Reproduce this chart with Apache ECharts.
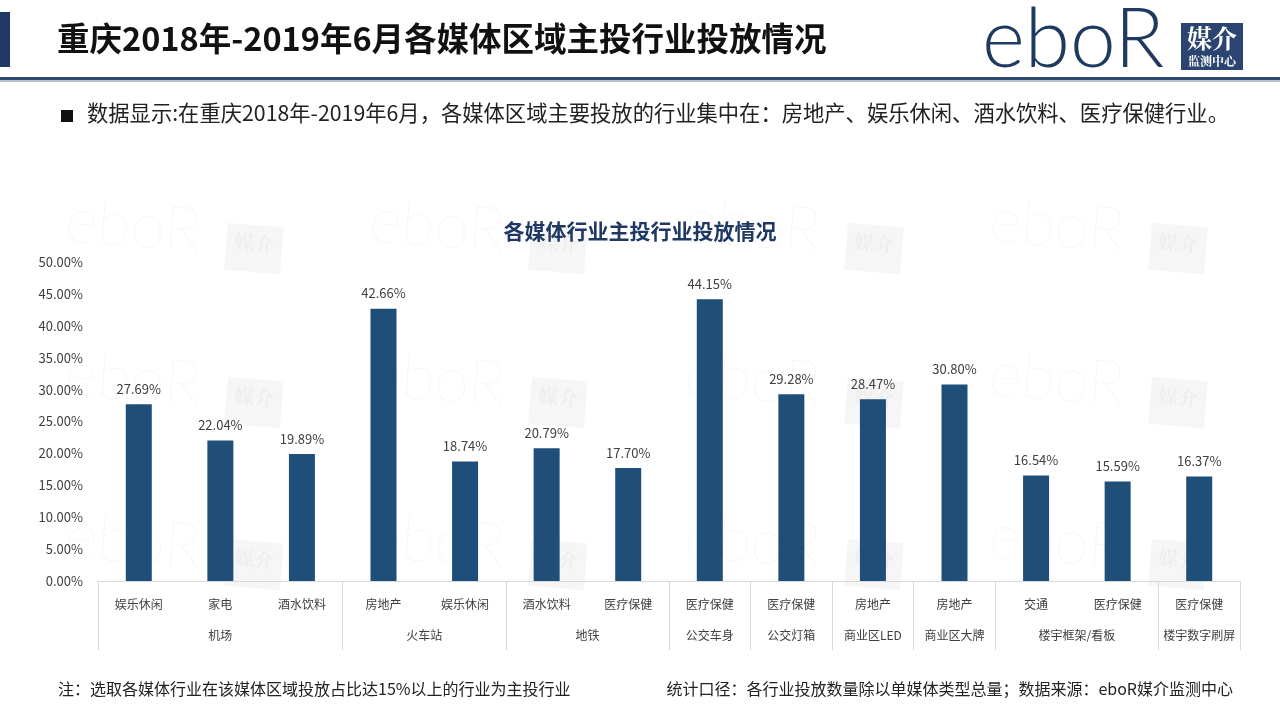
<!DOCTYPE html>
<html>
<head>
<meta charset="utf-8">
<title>重庆2018年-2019年6月各媒体区域主投行业投放情况</title>
<script src="https://cdn.jsdelivr.net/npm/echarts@6/dist/echarts.min.js"></script>
<style>
  html, body { margin: 0; padding: 0; background: #fff; }
  #main { width: 1280px; height: 720px; }
</style>
</head>
<body>
<div id="main"></div>
<script>
// 行业（每根柱子）
const industries = ['娱乐休闲', '家电', '酒水饮料', '房地产', '娱乐休闲', '酒水饮料', '医疗保健',
  '医疗保健', '医疗保健', '房地产', '房地产', '交通', '医疗保健', '医疗保健'];
// 占比 %
const shares = [27.69, 22.04, 19.89, 42.66, 18.74, 20.79, 17.70, 44.15, 29.28, 28.47, 30.80, 16.54, 15.59, 16.37];
// 媒体区域分组
const groupNames = ['机场', '火车站', '地铁', '公交车身', '公交灯箱', '商业区LED', '商业区大牌', '楼宇框架/看板', '楼宇数字刷屏'];
const groupSizes = [3, 2, 2, 1, 1, 1, 1, 2, 1];

const FONT = '"Noto Sans CJK SC", "Noto Sans", sans-serif';
const SERIF = '"Noto Serif CJK SC", "Noto Sans CJK SC", serif';
const NAVY = '#1F3864';
const BAR = '#1F4E79';

// second axis: 2 slots per category, boundaryGap false -> points at every half category
let groupSlots = new Array(industries.length * 2 + 1).fill('');
let separators = [0];
let pos = 0;
groupNames.forEach((g, i) => {
  groupSlots[pos + groupSizes[i]] = g;       // centre of the group
  pos += groupSizes[i] * 2;
  separators.push(pos);
});

// faint watermarks, slightly tilted
let marks = [];
[68, 372, 688, 992].forEach(x => {
  [190, 344, 506].forEach(y => {
    marks.push({
      type: 'group', x: x, y: y, rotation: -0.08, silent: true, z: -10,
      children: [
        { type: 'text', style: { text: 'eboR', x: 0, y: 0, font: '200 62px Lato, "Open Sans", sans-serif', fill: '#f4f4f4' } },
        { type: 'rect', shape: { x: 162, y: 20, width: 56, height: 47 }, style: { fill: '#f6f6f6' } },
        { type: 'text', style: { text: '媒介', x: 190, y: 38, align: 'center', verticalAlign: 'middle',
          font: 'bold 20px ' + SERIF, fill: '#eeeeee' } }
      ]
    });
  });
});

const chart = echarts.init(document.getElementById('main'));
chart.setOption({
  animation: false,
  backgroundColor: '#fff',
  title: {
    text: '各媒体行业主投行业投放情况',
    left: 'center', top: 216,
    textStyle: { fontFamily: FONT, fontSize: 21, fontWeight: 'bold', color: NAVY }
  },
  grid: { left: 98, right: 40, top: 262, bottom: 139 },
  xAxis: [{
    type: 'category',
    data: industries,
    axisLine: { lineStyle: { color: '#d9d9d9' } },
    axisTick: { show: false },
    axisLabel: { interval: 0, margin: 17, fontFamily: FONT, fontSize: 12, color: '#404040' }
  }, {
    type: 'category',
    position: 'bottom',
    boundaryGap: false,
    data: groupSlots,
    axisLine: { show: false },
    axisTick: {
      show: true, length: 69,
      interval: (idx) => separators.indexOf(idx) >= 0,
      lineStyle: { color: '#d9d9d9' }
    },
    axisLabel: { interval: 0, margin: 48, fontFamily: FONT, fontSize: 12, color: '#404040' }
  }],
  yAxis: {
    type: 'value',
    min: 0, max: 50, interval: 5,
    axisLine: { show: false },
    axisTick: { show: false },
    splitLine: { show: false },
    axisLabel: {
      margin: 15, fontFamily: FONT, fontSize: 13, color: '#404040',
      formatter: v => v.toFixed(2) + '%'
    }
  },
  series: [{
    type: 'bar',
    z: 10,
    data: shares,
    barWidth: 26,
    itemStyle: { color: BAR },
    label: {
      show: true, position: 'top', distance: 9,
      fontFamily: FONT, fontSize: 13, color: '#404040',
      formatter: p => p.value.toFixed(2) + '%'
    }
  }],
  graphic: marks.concat([
    { type: 'rect', shape: { x: 0, y: 12, width: 10, height: 55 }, style: { fill: NAVY } },
    { type: 'text', left: 57, top: 22,
      style: { text: '重庆2018年-2019年6月各媒体区域主投行业投放情况', font: 'bold 32.5px ' + FONT, fill: '#111' } },
    { type: 'rect', shape: { x: 0, y: 77, width: 1280, height: 3 }, style: { fill: '#2E4A6E' } },
    { type: 'rect', shape: { x: 0, y: 80, width: 1280, height: 2 }, style: { fill: '#B8C0CC' } },
    // logo
    { type: 'text', left: 982, top: 0,
      style: { text: 'eboR', font: '300 82px Lato, "Open Sans", sans-serif', fill: '#1F3A60' } },
    { type: 'rect', shape: { x: 1181, y: 23, width: 62, height: 47 }, style: { fill: '#2B4570' } },
    { type: 'text', style: { text: '媒介', x: 1212, y: 38, align: 'center', verticalAlign: 'middle',
      font: 'bold 25px ' + SERIF, fill: '#fff' } },
    { type: 'text', style: { text: '监测中心', x: 1212, y: 61, align: 'center', verticalAlign: 'middle',
      font: 'bold 12px ' + SERIF, fill: '#fff' } },
    // bullet
    { type: 'rect', shape: { x: 61, y: 110, width: 12, height: 12 }, style: { fill: '#111' } },
    { type: 'text', left: 87, top: 102,
      style: { text: '数据显示:在重庆2018年-2019年6月，各媒体区域主要投放的行业集中在：房地产、娱乐休闲、酒水饮料、医疗保健行业。',
        font: '21.3px ' + FONT, fill: '#222' } },
    // footnotes
    { type: 'text', left: 58, top: 681,
      style: { text: '注：选取各媒体行业在该媒体区域投放占比达15%以上的行业为主投行业', font: '16px ' + FONT, fill: '#222' } },
    { type: 'text', right: 47, top: 681,
      style: { text: '统计口径：各行业投放数量除以单媒体类型总量；数据来源：eboR媒介监测中心', font: '16px ' + FONT, fill: '#222' } }
  ])
});
</script>
</body>
</html>
